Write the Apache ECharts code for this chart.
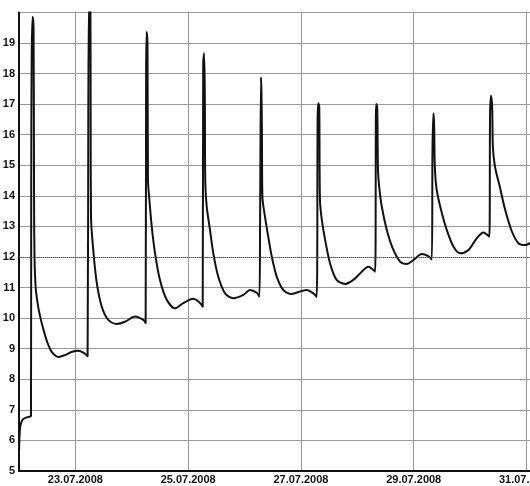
<!DOCTYPE html>
<html>
<head>
<meta charset="utf-8">
<script src="https://cdn.jsdelivr.net/npm/echarts@6/dist/echarts.min.js"></script>
<style>
html, body { margin: 0; padding: 0; background: #fff; }
#chart { width: 530px; height: 486px; }
</style>
</head>
<body>
<div id="chart"></div>
<script>
// hours since 22.07.2008 00:00
var hours = [
    0, 0.43, 1.0, 1.8, 4.0, 5.1,
    5.2, 5.4, 5.8, 6.2, 6.4, 6.6, 7.1, 8.0, 9.0, 10.5, 12.0, 13.5, 15.0, 16.7, 19.6, 22.4, 25.2, 27.4, 29.2,
    29.5, 29.9, 30.4, 30.5, 30.65, 31.6, 33.1, 35.2, 38.0, 41.6, 45.1, 49.4, 52.9, 53.9,
    54.1, 54.35, 54.7, 54.9, 55.5, 56.5, 57.9, 60.0, 62.9, 66.4, 69.9, 74.2, 77.1, 78.2,
    78.4, 78.8, 79.1, 79.3, 79.9, 81.3, 82.7, 84.8, 87.7, 91.2, 95.5, 98.3, 101.2, 102.3,
    102.6, 103.0, 103.2, 103.4, 103.6, 104.7, 106.1, 107.6, 109.7, 112.5, 116.1, 119.6, 122.5, 125.3, 126.7,
    127.1, 127.4, 127.8, 128.1, 128.9, 130.3, 132.4, 135.2, 138.8, 142.3, 145.9, 148.7, 150.8, 151.6,
    151.9, 152.1, 152.5, 152.8, 153.3, 154.4, 156.5, 159.0, 162.2, 165.0, 167.9, 171.4, 174.2, 175.7,
    176.0, 176.4, 176.7, 177.0, 177.8, 180.0, 182.1, 184.9, 187.7, 191.3, 194.8, 197.7, 199.4, 200.2,
    200.5, 200.9, 201.4, 201.7, 202.6, 204.8, 206.9, 209.7, 212.6, 215.4, 217.5, 219
];
var values = [
    5.63, 6.4, 6.6, 6.7, 6.77, 6.8,
    14.2, 18.55, 19.86, 19.48, 14.0, 12.0, 11.0, 10.45, 10.05, 9.6, 9.22, 8.95, 8.8, 8.73, 8.79, 8.89, 8.93, 8.87, 8.76,
    16.75, 20.6, 20.4, 16.4, 13.32, 12.23, 11.15, 10.38, 9.94, 9.81, 9.88, 10.05, 9.94, 9.84,
    18.0, 19.37, 18.9, 14.5, 13.87, 12.99, 12.12, 11.25, 10.6, 10.32, 10.49, 10.63, 10.49, 10.38,
    18.34, 18.66, 17.2, 14.41, 13.65, 12.88, 12.12, 11.36, 10.81, 10.65, 10.76, 10.92, 10.83, 10.7,
    12.99, 17.88, 17.4, 16.06, 13.97, 13.32, 12.66, 12.01, 11.36, 10.92, 10.79, 10.87, 10.92, 10.81, 10.7,
    16.5, 17.03, 16.92, 13.86, 13.21, 12.56, 11.79, 11.25, 11.12, 11.25, 11.52, 11.68, 11.58, 11.52,
    16.6, 17.0, 16.8, 14.85, 14.3, 13.65, 12.9, 12.3, 11.85, 11.77, 11.9, 12.1, 12.03, 11.92,
    15.5, 16.7, 16.3, 14.95, 14.19, 13.43, 12.88, 12.34, 12.12, 12.23, 12.61, 12.8, 12.72, 12.66,
    16.65, 17.27, 16.9, 15.6, 14.95, 14.25, 13.55, 12.85, 12.45, 12.39, 12.45, 12.55
];
var tickHours = [24, 72, 120, 168, 216];
var tickLabels = ['23.07.2008', '25.07.2008', '27.07.2008', '29.07.2008', '31.07.2008'];
var threshold = 12;

var chart = echarts.init(document.getElementById('chart'));

var seriesData = [];
for (var i = 0; i < hours.length; i++) {
    seriesData.push([hours[i], values[i]]);
}

var option = {
    animation: false,
    grid: {
        left: 19, right: 0, top: 12.4, bottom: 15,
        containLabel: false,
        outerBoundsMode: 'none'
    },
    xAxis: {
        type: 'value',
        min: 0,
        max: 217.5,
        axisLine: { show: true, onZero: false, lineStyle: { color: '#111', width: 2 } },
        axisTick: { show: false, customValues: tickHours },
        axisLabel: {
            customValues: tickHours,
            margin: 3,
            color: '#111',
            fontFamily: 'Liberation Sans, Arial, sans-serif',
            fontWeight: 'bold',
            fontSize: 11,
            hideOverlap: false,
            formatter: function (v) {
                var idx = tickHours.indexOf(v);
                return idx >= 0 ? tickLabels[idx] : '';
            }
        },
        splitLine: { show: true, lineStyle: { color: '#999', width: 1 } }
    },
    yAxis: {
        type: 'value',
        min: 5,
        max: 20,
        interval: 1,
        axisLine: { show: true, lineStyle: { color: '#111', width: 2 } },
        axisTick: { show: false },
        axisLabel: {
            showMaxLabel: false,
            margin: 4,
            color: '#111',
            fontFamily: 'Liberation Sans, Arial, sans-serif',
            fontWeight: 'bold',
            fontSize: 11
        },
        splitLine: { show: true, lineStyle: { color: '#999', width: 1 } }
    },
    series: [
        {
            type: 'line',
            data: seriesData,
            showSymbol: false,
            smooth: 0.3,
            clip: true,
            lineStyle: { color: '#111', width: 2 },
            markLine: {
                silent: true,
                symbol: ['none', 'none'],
                label: { show: false },
                lineStyle: { type: 'dotted', color: '#555', width: 1 },
                data: [{ yAxis: threshold }]
            }
        }
    ]
};

chart.setOption(option);
</script>
</body>
</html>
